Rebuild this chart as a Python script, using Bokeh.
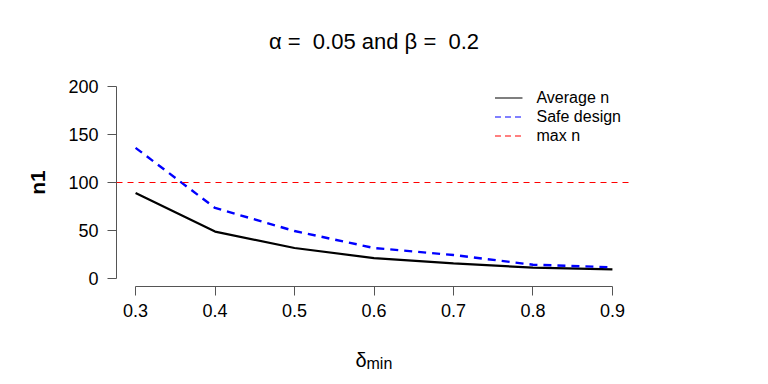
from bokeh.plotting import figure
from bokeh.models import Range1d, FixedTicker, Span, Title, Legend, LegendItem, ColumnDataSource
from bokeh.embed import file_html
from bokeh.resources import INLINE

# data
delta_min = [0.3, 0.4, 0.5, 0.6, 0.7, 0.8, 0.9]
average_n = [89, 49, 32, 21.5, 16, 11.5, 9.7]
safe_design = [136, 73.6, 49.6, 32, 24.7, 14.6, 12]
max_n = 100
y_ticks = [0, 50, 100, 150, 200]

FONT = "Liberation Sans"
NB = "\u00a0"

pad_x = (max(delta_min) - min(delta_min)) * 0.04
pad_y = (max(y_ticks) - min(y_ticks)) * 0.04

p = figure(width=752, height=376, output_backend="svg", toolbar_location=None,
           x_range=Range1d(min(delta_min) - pad_x, max(delta_min) + pad_x),
           y_range=Range1d(min(y_ticks) - pad_y, max(y_ticks) + pad_y),
           min_border_left=116, min_border_right=121, min_border_top=78, min_border_bottom=90)
p.outline_line_color = None
p.grid.visible = False
p.background_fill_color = "white"

title = Title(text=f"\u03b1 ={NB} 0.05 and \u03b2 ={NB} 0.2", align="center", text_font=FONT,
              text_font_size="22px", text_font_style="normal", text_color="black", standoff=50)
p.title = title

for ax in [p.xaxis[0], p.yaxis[0]]:
    ax.major_label_text_font = FONT
    ax.major_label_text_font_size = "18px"
    ax.major_label_text_color = "black"
    ax.axis_line_color = "#555555"
    ax.major_tick_line_color = "#555555"
    ax.major_tick_out = 9
    ax.major_tick_in = 0
    ax.minor_tick_out = 0
    ax.minor_tick_in = 0

p.xaxis.ticker = FixedTicker(ticks=delta_min)
p.xaxis.bounds = (min(delta_min), max(delta_min))
p.xaxis.major_label_standoff = 8
p.xaxis.major_label_overrides = {v: f"{v:.1f}" for v in delta_min}

p.yaxis.ticker = FixedTicker(ticks=y_ticks)
p.yaxis.bounds = (min(y_ticks), max(y_ticks))
p.yaxis.major_label_orientation = "horizontal"
p.yaxis.major_label_standoff = 9
p.yaxis.axis_label = "n1"
p.yaxis.axis_label_text_font = FONT
p.yaxis.axis_label_text_font_size = "21px"
p.yaxis.axis_label_text_font_style = "bold"
p.yaxis.axis_label_text_color = "black"
p.yaxis.axis_label_standoff = 16

src = ColumnDataSource(dict(x=delta_min, a=average_n, s=safe_design))
r_avg = p.line("x", "a", source=src, line_color="black", line_width=2.2)
r_safe = p.line("x", "s", source=src, line_color="blue", line_width=2.4, line_dash="8 6")

p.add_layout(Span(location=max_n, dimension="width", line_color="red", line_width=1.1, line_dash="6 5"))

# legend proxies (not drawn in the plot, only in the legend)
nan = float("nan")
r_avg_leg = p.line(x=[delta_min[0]], y=[nan], line_color="black", line_width=1.2)
r_safe_leg = p.line(x=[delta_min[0]], y=[nan], line_color="blue", line_width=1.2, line_dash="6 4")
r_max_leg = p.line(x=[delta_min[0]], y=[nan], line_color="red", line_width=1.2, line_dash="6 4")

legend = Legend(items=[LegendItem(label="Average n", renderers=[r_avg_leg]),
                       LegendItem(label="Safe design", renderers=[r_safe_leg]),
                       LegendItem(label="max n", renderers=[r_max_leg])],
                location="top_right", border_line_color=None, background_fill_alpha=0,
                label_text_font=FONT, label_text_font_size="16px", label_text_color="black",
                glyph_width=28, glyph_height=19, label_height=19, spacing=0,
                label_standoff=14, padding=10, margin=10)
p.add_layout(legend)

# x-axis label: delta with subscript "min", as two zero-height titles in the bottom panel
p.add_layout(Title(text="\u03b4", align="left", offset=239, vertical_align="bottom",
                   text_font=FONT, text_font_size="20px", text_font_style="normal",
                   text_color="black", standoff=-102), "below")
p.add_layout(Title(text="min", align="left", offset=250, vertical_align="bottom",
                   text_font=FONT, text_font_size="16px", text_font_style="normal",
                   text_color="black", standoff=-105), "below")

open("out.html", "w").write(file_html(p, INLINE))
